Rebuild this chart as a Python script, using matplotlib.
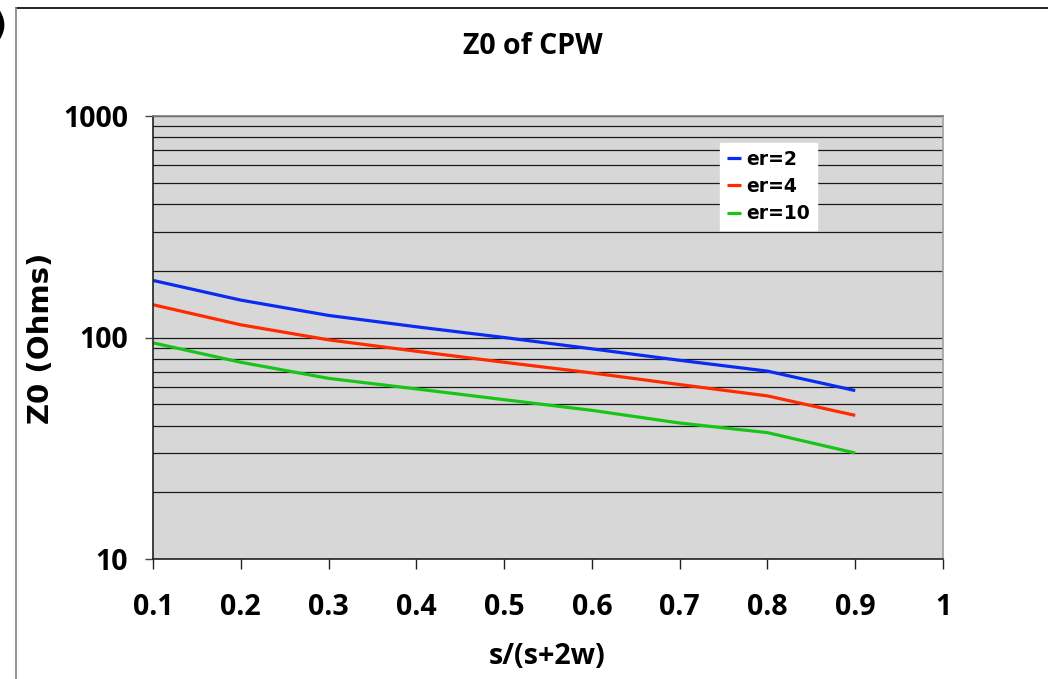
import matplotlib.pyplot as plt
from matplotlib.lines import Line2D
from matplotlib.ticker import FixedLocator, NullFormatter

# characteristic impedance of coplanar waveguide vs. s/(s+2w)
ratio = [0.1, 0.2, 0.3, 0.4, 0.5, 0.6, 0.7, 0.8, 0.9]
z_er2 = [181, 147.5, 125.8, 111.8, 100, 88.9, 78.9, 70.5, 57.6]
z_er4 = [140.6, 114.1, 97.6, 86.7, 77.3, 69.2, 61.3, 54.5, 44.5]
z_er10 = [94.6, 77.3, 65.4, 58.6, 52.4, 46.9, 41.1, 37.2, 30.1]
labels = ["er=2", "er=4", "er=10"]
colors = ["#0a2cf0", "#ff2a00", "#18c418"]

x_ticks = [0.1, 0.2, 0.3, 0.4, 0.5, 0.6, 0.7, 0.8, 0.9, 1.0]
x_ticklabels = ["0.1", "0.2", "0.3", "0.4", "0.5", "0.6", "0.7", "0.8", "0.9", "1"]
y_ticks = [10, 100, 1000]
y_ticklabels = ["10", "100", "1000"]

W, H = 1048, 679
fig = plt.figure(figsize=(W / 100, H / 100), dpi=100)
fig.patch.set_facecolor("white")

left, right, top, bottom = 153, 943, 116, 559
ax = fig.add_axes([left / W, 1 - bottom / H, (right - left) / W, (bottom - top) / H])
ax.set_facecolor("#d7d7d7")

for vals, lab, col in zip([z_er2, z_er4, z_er10], labels, colors):
    ax.plot(ratio, vals, color=col, lw=2.3, label=lab, solid_capstyle="butt")

ax.set_yscale("log")
ax.set_ylim(10, 1000)
ax.set_xlim(0.1, 1.0)

# gridlines on every decade and sub-decade value
minor = [m * d for d in (10, 100) for m in range(2, 10)]
ax.yaxis.set_minor_locator(FixedLocator(minor))
ax.yaxis.set_minor_formatter(NullFormatter())
ax.set_yticks(y_ticks)
ax.set_yticklabels(y_ticklabels)
ax.grid(True, axis="y", which="both", color="#1a1a1a", lw=0.9)
ax.set_axisbelow(True)

ax.set_xticks(x_ticks)
ax.set_xticklabels(x_ticklabels)

tick_font = dict(family="Open Sans", weight="bold", size=20.5)
for t in ax.get_xticklabels() + ax.get_yticklabels():
    t.set_fontfamily(tick_font["family"])
    t.set_fontweight(tick_font["weight"])
    t.set_fontsize(tick_font["size"])

ax.tick_params(axis="x", which="major", direction="out", length=7.5, width=1,
               color="#222222", pad=17)
ax.tick_params(axis="y", which="major", direction="out", length=6, width=1,
               color="#444444", pad=12)
ax.tick_params(axis="y", which="minor", length=0)

ax.spines["left"].set_color("#222222")
ax.spines["bottom"].set_color("#222222")
ax.spines["right"].set_color("#a0a0a0")
ax.spines["top"].set_color("#808080")
for s in ax.spines.values():
    s.set_linewidth(1.2)

leg = ax.legend(loc="upper left", bbox_to_anchor=(720 / W, 1 - 143 / H),
                bbox_transform=fig.transFigure, frameon=True, fancybox=False,
                borderaxespad=0, borderpad=0.35, handlelength=0.75,
                handletextpad=0.3, labelspacing=0.45,
                prop=dict(family="DejaVu Sans", weight="bold", size=13.5))
leg.get_frame().set_facecolor("white")
leg.get_frame().set_edgecolor("white")
leg.get_frame().set_alpha(1)

fig.text(533 / W, 1 - 47 / H, "Z0 of CPW", ha="center", va="center",
         family="Open Sans", weight="bold", size=20.5)
fig.text(547 / W, 1 - 656 / H, "s/(s+2w)", ha="center", va="center",
         family="Open Sans", weight="bold", size=20.5)
fig.text(41.5 / W, 1 - 338 / H, "Z0 (Ohms)", ha="center", va="center",
         rotation=90, family="DejaVu Sans", weight="bold", size=21)

# outer chart border, cut by the page edge
fig.add_artist(Line2D([16 / W, 1.0], [1 - 8 / H, 1 - 8 / H], color="#111111", lw=1.3))
fig.add_artist(Line2D([16 / W, 16 / W], [0, 1 - 8 / H], color="#8a8a8a", lw=1.3))
fig.text(7 / W, 1 - 27 / H, ")", ha="right", va="center",
         family="DejaVu Sans", weight="bold", size=24)

fig.savefig("out.png", dpi=100)
